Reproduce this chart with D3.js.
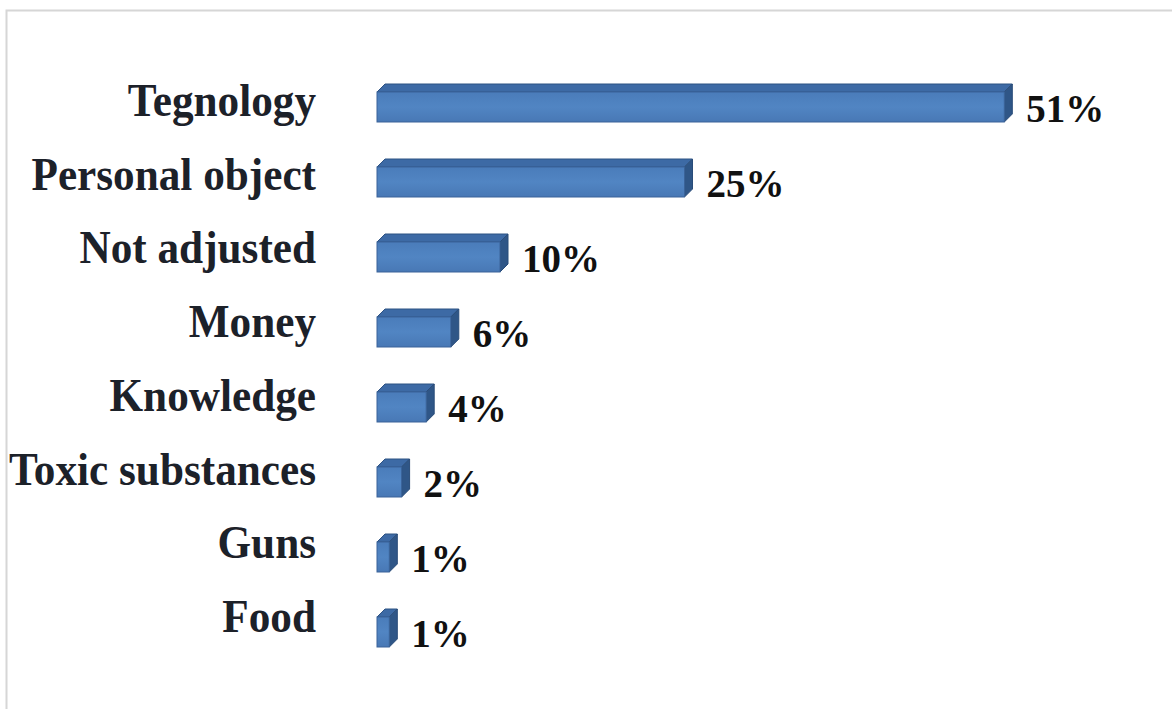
<!DOCTYPE html>
<html>
<head>
<meta charset="utf-8">
<script src="https://cdn.jsdelivr.net/npm/d3@7"></script>
<style>
  html, body { margin: 0; padding: 0; background: #fff; }
  svg { display: block; }
</style>
</head>
<body>
<svg id="chart" width="1172" height="709"></svg>
<script>
const categories = ["Tegnology", "Personal object", "Not adjusted", "Money", "Knowledge", "Toxic substances", "Guns", "Food"];
const values = [51, 25, 10, 6, 4, 2, 1, 1];
const valueLabels = ["51%", "25%", "10%", "6%", "4%", "2%", "1%", "1%"];

const W = 1172, H = 709;
const svg = d3.select("#chart");
const depth = 8;

// frame
svg.append("path")
  .attr("d", `M6.5,${H} L6.5,10.5 L${W},10.5`)
  .attr("fill", "none")
  .attr("stroke", "#d6d6d6")
  .attr("stroke-width", 2);

const defs = svg.append("defs");
const gFront = defs.append("linearGradient").attr("id", "gFront").attr("x1", 0).attr("y1", 0).attr("x2", 0).attr("y2", 1);
gFront.append("stop").attr("offset", "0%").attr("stop-color", "#4a7cba");
gFront.append("stop").attr("offset", "50%").attr("stop-color", "#5185c3");
gFront.append("stop").attr("offset", "100%").attr("stop-color", "#4878b5");

const x = d3.scaleLinear().domain([0, 60]).range([377, 1115]);
const y = d3.scaleBand().domain(categories).range([69.5, 669.5]).paddingInner(0.6).paddingOuter(0.3);
const yLab = d3.scaleBand().domain(categories).range([80, 669.6]).paddingInner(0).paddingOuter(0);

const data = categories.map((c, i) => ({ c, v: values[i], lab: valueLabels[i] }));

const bars = svg.append("g").selectAll("g").data(data).join("g");

bars.each(function(d) {
  const g = d3.select(this);
  const x0 = x(0), x1 = x(d.v), y0 = y(d.c), h = y.bandwidth();
  // top face
  g.append("path")
    .attr("d", `M${x0},${y0} L${x0 + depth},${y0 - depth} L${x1 + depth},${y0 - depth} L${x1},${y0} Z`)
    .attr("fill", "#3d6aa5")
    .attr("stroke", "#2d5283").attr("stroke-width", 1).attr("stroke-linejoin", "round");
  // side face
  g.append("path")
    .attr("d", `M${x1},${y0} L${x1 + depth},${y0 - depth} L${x1 + depth},${y0 + h - depth} L${x1},${y0 + h} Z`)
    .attr("fill", "#2f5687")
    .attr("stroke", "#294c79").attr("stroke-width", 1).attr("stroke-linejoin", "round");
  // front face
  g.append("rect")
    .attr("x", x0).attr("y", y0)
    .attr("width", x1 - x0).attr("height", h)
    .attr("fill", "url(#gFront)")
    .attr("stroke", "#3a6399").attr("stroke-width", 1);
  // value label
  g.append("text")
    .attr("x", x1 + depth + 14)
    .attr("y", y0 + h)
    .attr("font-family", "'Liberation Serif', 'Times New Roman', serif")
    .attr("font-weight", "bold")
    .attr("font-size", 39)
    .attr("fill", "#111")
    .text(d.lab);
});

// category labels
svg.append("g").selectAll("text").data(data).join("text")
  .attr("transform", d => `translate(316,${yLab(d.c) + 36}) scale(0.92,1)`)
  .attr("text-anchor", "end")
  .attr("font-family", "'Liberation Serif', 'Times New Roman', serif")
  .attr("font-weight", "bold")
  .attr("font-size", 47)
  .attr("fill", "#1c2129")
  .text(d => d.c);
</script>
</body>
</html>
